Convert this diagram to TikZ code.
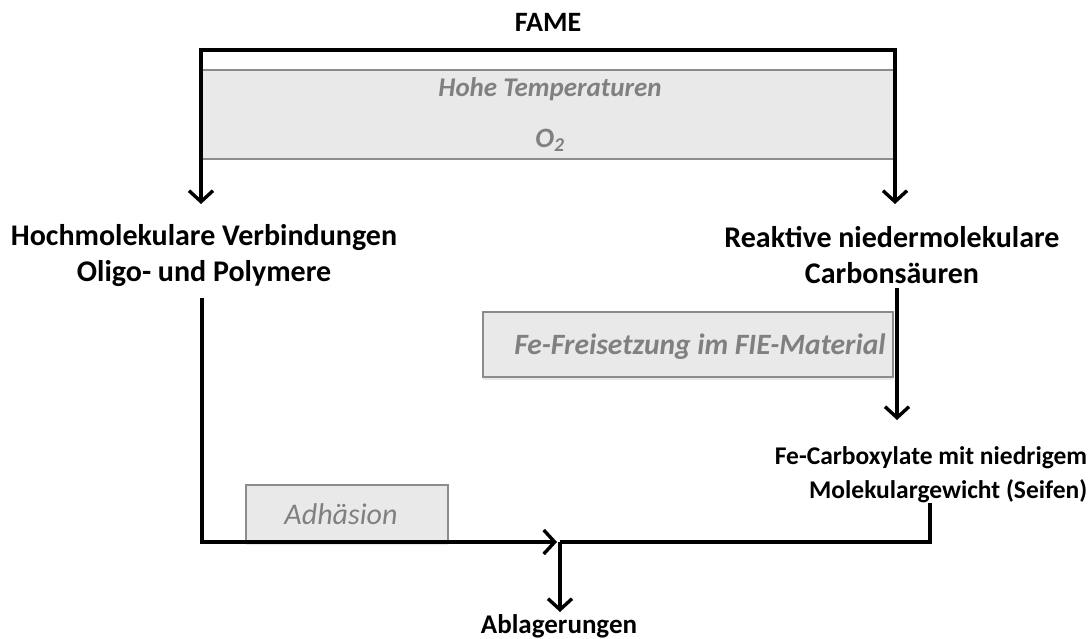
\documentclass[tikz,border=0pt]{standalone}
\usepackage{fontspec}
\setmainfont{Carlito}
\usetikzlibrary{arrows.meta,shadows}

\definecolor{boxfill}{HTML}{E9E9E9}
\definecolor{boxline}{HTML}{8C8C8C}
\definecolor{greytext}{HTML}{808080}

\tikzset{
  link/.style={line width=3.4pt, black, line join=miter},
  barb/.tip={Straight Barb[length=11pt,width=24pt,line width=3.4pt]},
  flow/.style={link, -barb},
  label/.style={font=\bfseries\fontsize{30}{36}\selectfont, align=center, inner sep=0pt},
  condbox/.style={fill=boxfill, draw=boxline, line width=1.8pt,
    drop shadow={opacity=0.18, shadow xshift=0pt, shadow yshift=-3pt}},
  condtext/.style={text=greytext, font=\itshape\fontsize{30}{34}\selectfont, inner sep=0pt},
  condbold/.style={condtext, font=\bfseries\itshape\fontsize{29.5}{34}\selectfont},
}

\begin{document}
\begin{tikzpicture}[x=1pt,y=-1pt]
\useasboundingbox[fill=white] (0,0) rectangle (1089,639);

% reaction conditions band
\fill[boxfill] (201,70) rectangle (895,159);
\draw[boxline, line width=2pt] (201,70) -- (895,70);
\draw[boxline, line width=2pt] (201,159) -- (895,159);
\node[condbold, font=\bfseries\itshape\fontsize{27}{32}\selectfont] (temp) at (550,89) {Hohe Temperaturen};
\node[condbold, font=\bfseries\itshape\fontsize{28}{32}\selectfont] (oxy) at (550,140) {O\textsubscript{2}};

% side conditions
\node[condbox, minimum width=410pt, minimum height=65pt] (fe) at (688,344.5) {};
\node[condbold] (fetext) at (700,347) {Fe-Freisetzung im FIE-Material};
\node[condbox, minimum width=202pt, minimum height=57pt] (adh) at (347,513.5) {};
\node[condtext] (adhtext) at (341,514) {Adhäsion};

% species
\node[label, font=\bfseries\fontsize{28}{36}\selectfont] (fame) at (548,22) {FAME};
\node[label] (hoch) at (204,256) {Hochmolekulare Verbindungen\\Oligo- und Polymere};
\node[label] (reak) at (892,255) {Reaktive niedermolekulare\\Carbonsäuren};
\node[label, align=right, font=\bfseries\fontsize{25.5}{34}\selectfont] (carb) at (931,475) {Fe-Carboxylate mit niedrigem\\Molekulargewicht (Seifen)};
\node[label, font=\bfseries\fontsize{27}{36}\selectfont] (abl) at (559,626) {Ablagerungen};

% connector points
\coordinate (tl) at (201,50);
\coordinate (tr) at (895,50);
\coordinate (hochin) at (201,204);
\coordinate (reakin) at (895,204);
\coordinate (hochout) at (202,298);
\coordinate (reakout) at (897,288);
\coordinate (carbin) at (897,420);
\coordinate (carbout) at (930,503);
\coordinate (join) at (560,542);
\coordinate (joinin) at (557,542);
\coordinate (ablin) at (560,612);

% connectors
\draw[link, barb-barb] (hochin) -- (tl) -- (tr) -- (reakin);
\draw[flow] (hochout) |- (joinin);
\draw[flow] (reakout) -- (carbin);
\draw[link] (carbout) |- (join);
\draw[flow] (join) -- (ablin);
\end{tikzpicture}
\end{document}
